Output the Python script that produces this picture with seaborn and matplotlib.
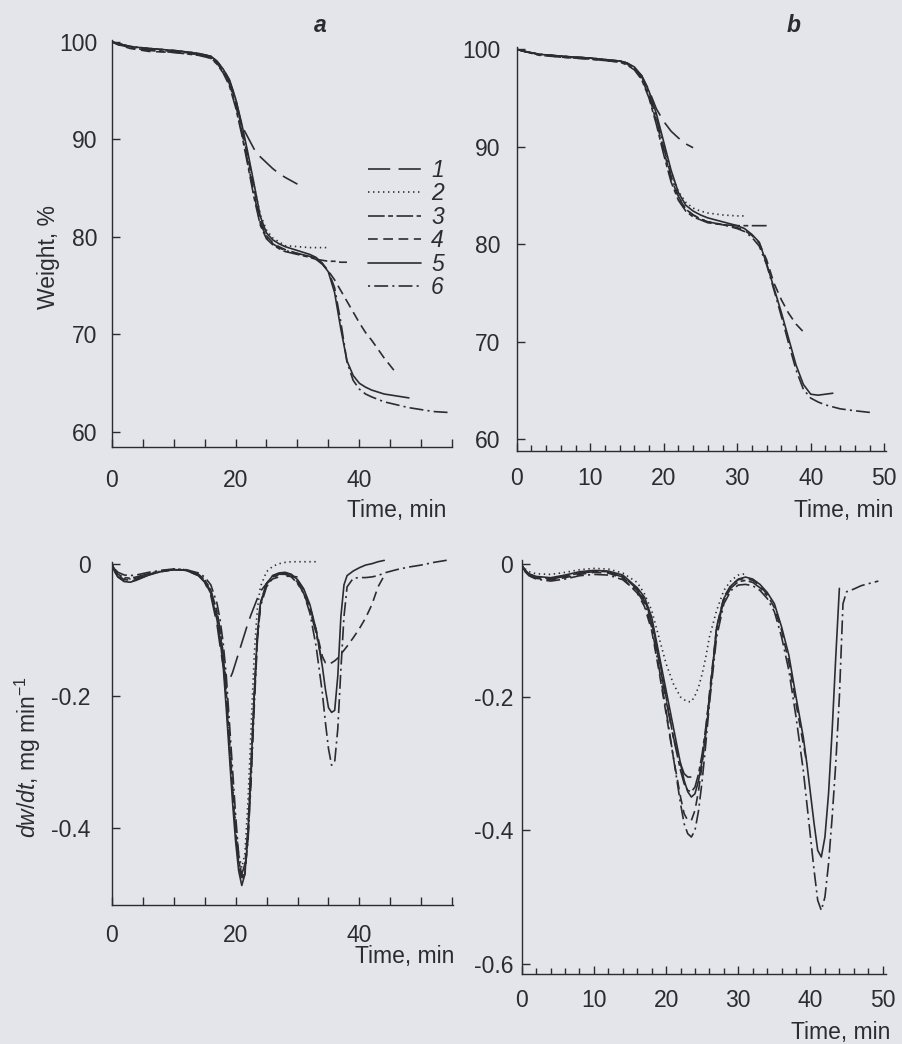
import numpy as np
import pandas as pd
import matplotlib
matplotlib.use('Agg')
import matplotlib.pyplot as plt
from matplotlib.lines import Line2D
from matplotlib.ticker import MultipleLocator
import seaborn as sns

# ---- panel a : weight loss (TG), time grid shared by the six curves ----
t_a = [0, 1, 3, 6, 10, 14, 16, 17, 18, 19, 20, 21, 22, 23, 24, 25, 26, 27, 28, 30,
       32, 33, 34, 35, 36, 37, 38, 39, 40, 41, 42, 44, 46, 48, 50, 52, 54.6]
a1 = [100, 99.8, 99.5, 99.3, 99.1, 98.8, 98.5, 98.0, 97.2, 96.1, 94.2, 91.4, 90.2, 89.0,
      88.2, 87.6, 87.0, 86.5, 86.1, 85.4]
a2 = [100, 99.8, 99.5, 99.3, 99.1, 98.8, 98.5, 98.0, 97.1, 96.0, 94.0, 91.3, 88.3, 85.2,
      82.3, 80.7, 79.9, 79.5, 79.1, 79.0, 78.9, 78.9, 78.9, 78.9]
a3 = [100, 99.7, 99.4, 99.1, 98.9, 98.6, 98.3, 97.7, 96.8, 95.5, 93.3, 90.5, 87.3, 84.0,
      81.2, 79.8, 79.2, 78.8, 78.5, 78.2, 77.9, 77.7, 77.6, 77.5, 77.5, 77.4, 77.4]
a4 = [100, 99.7, 99.3, 99.0, 98.9, 98.7, 98.4, 97.9, 97.0, 95.9, 93.9, 91.2, 88.1, 84.9,
      81.7, 80.1, 79.4, 79.0, 78.7, 78.3, 78.0, 77.8, 77.3, 76.5, 75.6, 74.5, 73.4, 72.3,
      71.2, 70.2, 69.4, 67.6, 66.0]
a5 = [100, 99.8, 99.5, 99.3, 99.1, 98.8, 98.5, 98.0, 97.2, 96.1, 94.2, 91.6, 88.6, 85.4,
      82.1, 80.4, 79.7, 79.3, 79.0, 78.6, 78.2, 77.9, 77.3, 76.4, 74.3, 70.6, 67.3, 65.8,
      65.0, 64.6, 64.3, 63.9, 63.7, 63.5]
a6 = [100, 99.8, 99.5, 99.2, 99.0, 98.7, 98.3, 97.8, 96.9, 95.7, 93.6, 90.8, 87.6, 84.3,
      81.4, 80.0, 79.3, 78.9, 78.6, 78.3, 78.0, 77.7, 77.2, 76.5, 74.8, 71.3, 67.2, 65.3,
      64.4, 63.9, 63.6, 63.1, 62.8, 62.5, 62.3, 62.1, 62.0]

# ---- panel b : weight loss (TG) ----
t_b = [0, 1, 3, 6, 10, 14, 15, 16, 17, 18, 19, 20, 21, 22, 23, 24, 25, 26, 28, 30,
       31, 32, 33, 34, 35, 36, 37, 38, 39, 40, 41, 42, 43, 44, 46, 48.4]
b1 = [100, 99.8, 99.5, 99.3, 99.1, 98.8, 98.6, 98.1, 97.3, 95.8, 93.9, 92.6, 91.6, 90.9,
      90.3, 89.9]
b2 = [100, 99.8, 99.5, 99.3, 99.1, 98.8, 98.6, 98.1, 97.2, 95.6, 93.2, 90.2, 87.4, 85.4,
      84.3, 83.7, 83.4, 83.2, 83.0, 82.9, 82.9]
b3 = [100, 99.8, 99.4, 99.2, 99.0, 98.7, 98.4, 97.9, 96.9, 95.0, 92.3, 89.2, 86.4, 84.5,
      83.4, 82.8, 82.5, 82.2, 82.0, 81.9, 81.9, 81.9, 81.9, 81.9]
b4 = [100, 99.8, 99.5, 99.2, 99.0, 98.7, 98.5, 98.0, 97.0, 95.2, 92.6, 89.6, 86.8, 84.8,
      83.6, 83.0, 82.6, 82.3, 82.0, 81.7, 81.4, 80.9, 80.1, 78.4, 76.0, 74.3, 72.9, 71.8,
      71.0]
b5 = [100, 99.8, 99.5, 99.3, 99.1, 98.8, 98.6, 98.2, 97.3, 95.7, 93.4, 90.5, 87.6, 85.3,
      84.0, 83.4, 83.0, 82.7, 82.3, 81.9, 81.6, 81.0, 80.2, 78.0, 75.5, 73.0, 70.3, 67.6,
      65.6, 64.6, 64.5, 64.6, 64.7]
b6 = [100, 99.8, 99.5, 99.3, 99.1, 98.8, 98.6, 98.1, 97.2, 95.4, 92.9, 89.9, 87.0, 84.9,
      83.6, 83.0, 82.6, 82.3, 82.0, 81.6, 81.3, 80.7, 79.8, 77.9, 75.3, 72.6, 69.8, 67.1,
      65.1, 64.2, 63.8, 63.5, 63.3, 63.1, 62.9, 62.7]

# ---- panel c : dw/dt for the panel a runs ----
t_c = [0, 0.5, 1, 2, 3, 4, 6, 8, 10, 12, 14, 15, 16, 17, 17.5, 18, 18.5, 19, 19.5, 20,
       20.5, 21, 21.5, 22, 22.5, 23, 23.5, 24, 25, 26, 27, 28, 29, 30, 31, 32, 33, 34,
       34.5, 35, 35.5, 36, 36.5, 37, 37.5, 38, 39, 40, 41, 42, 43, 44, 46, 48, 50, 52, 54.6]
c1 = [0.0, -0.012, -0.02, -0.026, -0.027, -0.024, -0.017, -0.012, -0.009, -0.01, -0.018,
      -0.028, -0.048, -0.092, -0.125, -0.155, -0.172, -0.176, -0.165, -0.15, -0.135, -0.12,
      -0.105, -0.09, -0.077, -0.065, -0.053, -0.042, -0.03, -0.023, -0.02, -0.019, -0.019,
      -0.02]
c2 = [0.0, -0.01, -0.017, -0.022, -0.023, -0.021, -0.015, -0.011, -0.008, -0.009, -0.016,
      -0.024, -0.04, -0.075, -0.1, -0.135, -0.19, -0.26, -0.33, -0.395, -0.44, -0.46, -0.44,
      -0.36, -0.25, -0.14, -0.07, -0.035, -0.012, -0.004, 0.0, 0.002, 0.003, 0.003, 0.003,
      0.003, 0.003]
c3 = [0.0, -0.01, -0.016, -0.021, -0.022, -0.02, -0.015, -0.011, -0.009, -0.01, -0.016,
      -0.024, -0.04, -0.072, -0.1, -0.138, -0.195, -0.265, -0.34, -0.405, -0.45, -0.47,
      -0.455, -0.4, -0.3, -0.2, -0.11, -0.06, -0.03, -0.02, -0.016, -0.016, -0.02, -0.03,
      -0.045, -0.07, -0.105, -0.15]
c4 = [0.0, -0.01, -0.018, -0.024, -0.025, -0.022, -0.016, -0.011, -0.009, -0.01, -0.017,
      -0.025, -0.042, -0.078, -0.105, -0.145, -0.205, -0.275, -0.345, -0.41, -0.455, -0.48,
      -0.47, -0.415, -0.32, -0.21, -0.115, -0.062, -0.03, -0.018, -0.015, -0.014, -0.017,
      -0.025, -0.04, -0.065, -0.1, -0.14, -0.15, -0.152, -0.15, -0.147, -0.143, -0.137,
      -0.131, -0.125, -0.112, -0.098, -0.082, -0.062, -0.035, -0.018]
c5 = [0.0, -0.012, -0.02, -0.027, -0.028, -0.025, -0.017, -0.012, -0.009, -0.01, -0.018,
      -0.027, -0.045, -0.085, -0.115, -0.155, -0.22, -0.29, -0.36, -0.42, -0.465, -0.487,
      -0.47, -0.41, -0.31, -0.2, -0.11, -0.06, -0.03, -0.018, -0.014, -0.013, -0.016, -0.024,
      -0.038, -0.062, -0.1, -0.155, -0.19, -0.218, -0.225, -0.222, -0.17, -0.08, -0.032,
      -0.018, -0.011, -0.006, -0.002, 0.0, 0.003, 0.005]
c6 = [0.0, -0.008, -0.013, -0.017, -0.018, -0.017, -0.013, -0.01, -0.008, -0.009, -0.014,
      -0.02, -0.032, -0.06, -0.085, -0.12, -0.17, -0.24, -0.31, -0.38, -0.44, -0.475, -0.465,
      -0.42, -0.33, -0.22, -0.12, -0.065, -0.035, -0.022, -0.016, -0.015, -0.018, -0.028,
      -0.045, -0.075, -0.125, -0.195, -0.24, -0.28, -0.305, -0.3, -0.25, -0.16, -0.08,
      -0.035, -0.022, -0.021, -0.021, -0.02, -0.018, -0.014, -0.009, -0.005, -0.002, 0.002,
      0.006]

# ---- panel d : dw/dt for the panel b runs ----
t_d = [0, 0.5, 1, 2, 4, 6, 8, 10, 12, 14, 16, 17, 18, 19, 20, 21, 22, 22.5, 23, 23.5,
       24, 24.5, 25, 25.5, 26, 27, 28, 29, 30, 31, 32, 33, 34, 35, 36, 37, 38, 39, 39.5,
       40, 40.5, 41, 41.5, 42, 42.5, 43, 43.5, 44, 44.5, 45, 46, 47, 48, 49.4]
d1 = [-0.002, -0.011, -0.017, -0.021, -0.023, -0.019, -0.014, -0.012, -0.013, -0.02, -0.04,
      -0.056, -0.088, -0.145, -0.205, -0.26, -0.3, -0.315, -0.32, -0.32]
d2 = [-0.002, -0.008, -0.012, -0.015, -0.016, -0.013, -0.009, -0.007, -0.008, -0.014,
      -0.028, -0.045, -0.07, -0.11, -0.15, -0.18, -0.2, -0.204, -0.207, -0.207, -0.198,
      -0.185, -0.165, -0.14, -0.11, -0.07, -0.04, -0.025, -0.017, -0.015]
d3 = [-0.002, -0.01, -0.016, -0.02, -0.022, -0.019, -0.014, -0.011, -0.012, -0.019, -0.038,
      -0.053, -0.085, -0.14, -0.2, -0.26, -0.31, -0.33, -0.34, -0.342, -0.335, -0.315,
      -0.285, -0.245, -0.2, -0.1, -0.055, -0.036, -0.027, -0.025, -0.028, -0.036, -0.048]
d4 = [-0.003, -0.012, -0.018, -0.022, -0.024, -0.021, -0.016, -0.013, -0.014, -0.022,
      -0.044, -0.064, -0.1, -0.16, -0.225, -0.29, -0.35, -0.375, -0.385, -0.385, -0.37,
      -0.34, -0.3, -0.25, -0.195, -0.095, -0.05, -0.032, -0.024, -0.022, -0.025, -0.033,
      -0.046, -0.066, -0.1, -0.148, -0.21, -0.27, -0.3]
d5 = [-0.002, -0.01, -0.015, -0.019, -0.021, -0.017, -0.012, -0.01, -0.011, -0.017, -0.036,
      -0.05, -0.08, -0.135, -0.19, -0.245, -0.3, -0.325, -0.342, -0.35, -0.345, -0.325,
      -0.295, -0.255, -0.205, -0.095, -0.052, -0.033, -0.023, -0.02, -0.023, -0.031, -0.043,
      -0.06, -0.095, -0.137, -0.2, -0.26, -0.3, -0.345, -0.39, -0.43, -0.44, -0.41, -0.345,
      -0.25, -0.14, -0.037]
d6 = [-0.003, -0.012, -0.018, -0.023, -0.026, -0.023, -0.018, -0.016, -0.017, -0.024,
      -0.042, -0.06, -0.095, -0.155, -0.22, -0.29, -0.36, -0.39, -0.405, -0.41, -0.4, -0.37,
      -0.325, -0.27, -0.21, -0.11, -0.06, -0.04, -0.032, -0.031, -0.033, -0.04, -0.052,
      -0.072, -0.11, -0.16, -0.23, -0.31, -0.36, -0.41, -0.46, -0.505, -0.52, -0.5, -0.45,
      -0.38, -0.3, -0.2, -0.06, -0.042, -0.038, -0.033, -0.03, -0.026]

curve_names = ['1', '2', '3', '4', '5', '6']

INK = '#2c2c30'
BG = '#e4e4eb'
FS = 16.5

sns.set_style('ticks')
plt.rcParams['font.family'] = ['Liberation Sans', 'DejaVu Sans']
plt.rcParams['lines.scale_dashes'] = False
plt.rcParams['axes.unicode_minus'] = False
plt.rcParams['mathtext.fontset'] = 'custom'
plt.rcParams['mathtext.it'] = 'Liberation Sans:italic'
plt.rcParams['mathtext.rm'] = 'Liberation Sans'

dash_map = {'1': (16, 6), '2': (1, 2.6), '3': (12, 2.5, 3.5, 2.5), '4': (7, 4),
            '5': '', '6': (1.5, 3, 10, 3)}
pal = {k: INK for k in curve_names}


def to_long(t, series):
    rows = []
    for name, vals in zip(curve_names, series):
        for x, y in zip(t, vals):
            rows.append((x, y, name))
    return pd.DataFrame(rows, columns=['t', 'v', 'curve'])


W, H = 902, 1044
fig = plt.figure(figsize=(W / 100, H / 100), dpi=100, facecolor=BG)


def px_rect(left, right, top, bottom):
    return [left / W, 1 - bottom / H, (right - left) / W, (bottom - top) / H]


ax_a = fig.add_axes(px_rect(111.7, 452.2, 39.7, 446.7))
ax_b = fig.add_axes(px_rect(516.7, 885.7, 47.4, 450.7))
ax_c = fig.add_axes(px_rect(111.7, 453.0, 557.1, 905.3))
ax_d = fig.add_axes(px_rect(521.7, 886.3, 560.4, 973.7))

panels = [
    (ax_a, to_long(t_a, [a1, a2, a3, a4, a5, a6])),
    (ax_b, to_long(t_b, [b1, b2, b3, b4, b5, b6])),
    (ax_c, to_long(t_c, [c1, c2, c3, c4, c5, c6])),
    (ax_d, to_long(t_d, [d1, d2, d3, d4, d5, d6])),
]

for ax, df in panels:
    ax.set_facecolor('none')
    sns.lineplot(data=df, x='t', y='v', hue='curve', style='curve', dashes=dash_map,
                 palette=pal, estimator=None, sort=False, legend=False, lw=1.2, ax=ax)
    ax.set_xlabel('')
    ax.set_ylabel('')
    for s in ['top', 'right']:
        ax.spines[s].set_visible(False)
    for s in ['left', 'bottom']:
        ax.spines[s].set_color(INK)
        ax.spines[s].set_linewidth(1.0)
    ax.tick_params(which='both', direction='in', colors=INK, labelcolor=INK,
                   labelsize=FS, width=1.0)
    ax.tick_params(which='major', length=6)

# panel a
ax_a.set_xlim(0, 55)
ax_a.set_ylim(58.5, 100.2)
ax_a.set_xticks([0, 20, 40])
ax_a.xaxis.set_minor_locator(MultipleLocator(5))
ax_a.tick_params(axis='x', which='minor', length=6)
ax_a.set_yticks([60, 70, 80, 90, 100])
ax_a.tick_params(axis='x', pad=16)
ax_a.tick_params(axis='y', pad=10.5)

# panel b
ax_b.set_xlim(0, 50.2)
ax_b.set_ylim(58.8, 100.2)
ax_b.set_xticks([0, 10, 20, 30, 40, 50])
ax_b.xaxis.set_minor_locator(MultipleLocator(2))
ax_b.tick_params(axis='x', which='minor', length=4)
ax_b.set_yticks([60, 70, 80, 90, 100])
ax_b.tick_params(axis='x', pad=12)
ax_b.tick_params(axis='y', pad=12)

# panel c
ax_c.set_xlim(0, 55.1)
ax_c.set_ylim(-0.517, 0.01)
ax_c.spines['left'].set_bounds(-0.517, 0.003)
ax_c.set_xticks([0, 20, 40])
ax_c.xaxis.set_minor_locator(MultipleLocator(5))
ax_c.tick_params(axis='x', which='minor', length=6)
ax_c.set_yticks([0, -0.2, -0.4])
ax_c.set_yticklabels(['0', '-0.2', '-0.4'])
ax_c.tick_params(axis='x', pad=13.5)
ax_c.tick_params(axis='y', pad=15)

# panel d
ax_d.set_xlim(0, 50.5)
ax_d.set_ylim(-0.615, 0.005)
ax_d.set_xticks([0, 10, 20, 30, 40, 50])
ax_d.xaxis.set_minor_locator(MultipleLocator(2))
ax_d.tick_params(axis='x', which='minor', length=4)
ax_d.set_yticks([0, -0.2, -0.4, -0.6])
ax_d.set_yticklabels(['0', '-0.2', '-0.4', '-0.6'])
ax_d.tick_params(axis='x', pad=11)
ax_d.tick_params(axis='y', pad=6)

# axis titles and panel letters
for x, y in [(347, 510), (794, 510), (355, 957), (791, 1032)]:
    fig.text(x / W, 1 - y / H, 'Time, min', ha='left', va='center', fontsize=FS, color=INK)
fig.text(48 / W, 1 - 257 / H, 'Weight, %', rotation=90, ha='center', va='center',
         fontsize=FS, color=INK)
fig.text(28 / W, 1 - 757 / H, r'$dw/dt$, mg min$^{-1}$', rotation=90, ha='center',
         va='center', fontsize=FS, color=INK)
fig.text(320 / W, 1 - 25 / H, 'a', ha='center', va='center', fontsize=FS,
         fontweight='bold', fontstyle='italic', color=INK)
fig.text(794 / W, 1 - 25 / H, 'b', ha='center', va='center', fontsize=FS,
         fontweight='bold', fontstyle='italic', color=INK)

# legend of panel a
handles = [Line2D([], [], color=INK, lw=1.2, dashes=dash_map[k] if dash_map[k] else (None, None))
           for k in curve_names]
leg = ax_a.legend(handles, curve_names, loc='upper left',
                  bbox_to_anchor=(368 / W, 1 - 159 / H), bbox_transform=fig.transFigure,
                  frameon=False, borderpad=0, borderaxespad=0, handlelength=2.3,
                  handletextpad=0.45, labelspacing=0.02,
                  prop={'size': FS, 'style': 'italic', 'family': ['Liberation Sans']})
for txt in leg.get_texts():
    txt.set_color(INK)

fig.savefig('out.png', dpi=100, facecolor=BG)
